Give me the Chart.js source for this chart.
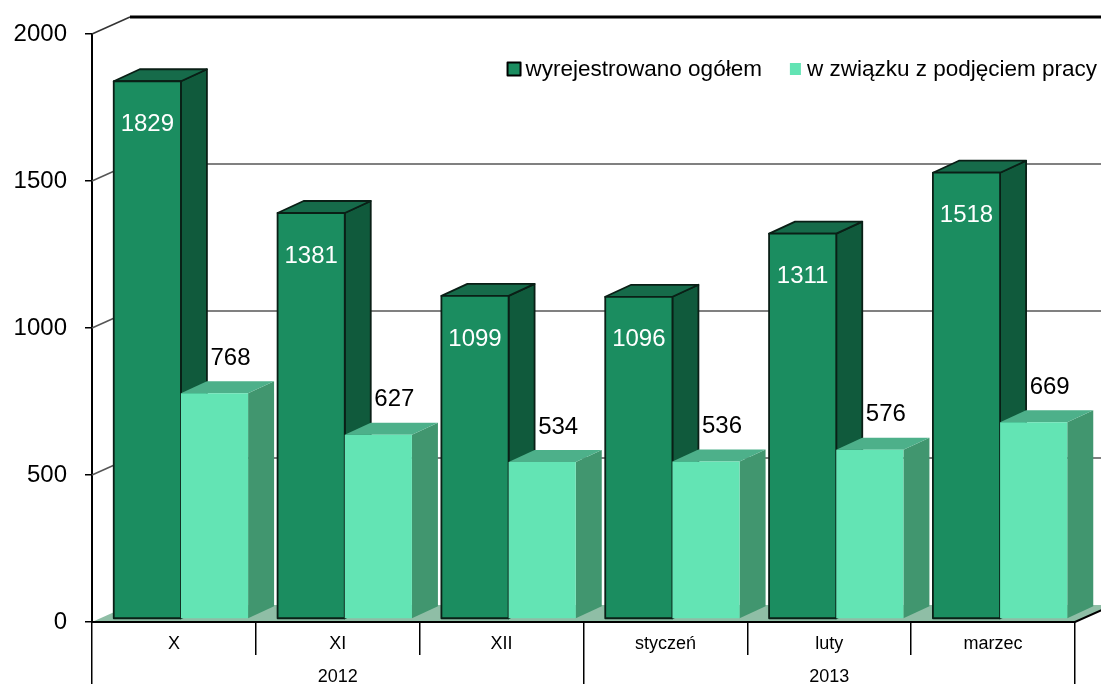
<!DOCTYPE html>
<html>
<head>
<meta charset="utf-8">
<script src="https://cdn.jsdelivr.net/npm/chart.js@4.4.1/dist/chart.umd.min.js"></script>
<style>
  html, body { margin: 0; padding: 0; background: #fff; }
  #wrap { width: 1101px; height: 684px; position: relative; }
</style>
</head>
<body>
<div id="wrap"><canvas id="chart"></canvas></div>
<script>
const categories = ['X', 'XI', 'XII', 'styczeń', 'luty', 'marzec'];
const years = ['2012', '2013'];
const totalValues = [1829, 1381, 1099, 1096, 1311, 1518];
const employedValues = [768, 627, 534, 536, 576, 669];
const seriesNames = ['wyrejestrowano ogółem', 'w związku z podjęciem pracy'];
const yMin = 0, yMax = 2000, yStep = 500;

const FONT = "'Liberation Sans', Arial, sans-serif";
const dark = { front: '#1b8d60', top: '#166b4a', side: '#105a3c', stroke: '#0a1f16' };
const light = { front: '#63e4b4', top: '#4db08a', side: '#41966f', stroke: null };

// 3d geometry in pixels
const wall = { dx: 38, dy: -17 };
const barShift = { dx: 7, dy: -3 };
const barDepth = { dx: 26, dy: -12 };

function poly(ctx, pts, fill, stroke) {
    ctx.beginPath();
    ctx.moveTo(pts[0][0], pts[0][1]);
    for (let i = 1; i < pts.length; i++) ctx.lineTo(pts[i][0], pts[i][1]);
    ctx.closePath();
    ctx.fillStyle = fill;
    ctx.fill();
    if (stroke) {
        ctx.strokeStyle = stroke;
        ctx.lineWidth = 1.8;
        ctx.lineJoin = 'round';
        ctx.stroke();
    }
}

function drawBar(ctx, el, c) {
    const x0 = el.x - el.width / 2 + barShift.dx;
    const x1 = el.x + el.width / 2 + barShift.dx;
    const yt = el.y + barShift.dy;
    const yb = el.base + barShift.dy;
    const dx = barDepth.dx, dy = barDepth.dy;
    poly(ctx, [[x1, yt], [x1 + dx, yt + dy], [x1 + dx, yb + dy], [x1, yb]], c.side, c.stroke);
    poly(ctx, [[x0, yt], [x1, yt], [x1 + dx, yt + dy], [x0 + dx, yt + dy]], c.top, c.stroke);
    poly(ctx, [[x0, yt], [x1, yt], [x1, yb], [x0, yb]], c.front, c.stroke);
    return { cx: (x0 + x1) / 2, yt: yt };
}

const box3d = {
    id: 'box3d',
    beforeDatasetsDraw(chart) {
        const ctx = chart.ctx;
        const a = chart.chartArea;
        const ys = chart.scales.y;
        ctx.save();
        ys.ticks.forEach(t => {
            const y = ys.getPixelForValue(t.value);
            if (t.value === yMin) return;
            const top = t.value === yMax;
            ctx.beginPath();
            ctx.moveTo(a.left, y);
            ctx.lineTo(a.left + wall.dx, y + wall.dy);
            ctx.strokeStyle = top ? '#333' : '#555';
            ctx.lineWidth = 1.5;
            ctx.stroke();
            ctx.beginPath();
            ctx.moveTo(a.left + wall.dx, y + wall.dy);
            ctx.lineTo(a.right + wall.dx, y + wall.dy);
            ctx.strokeStyle = top ? '#000' : '#808080';
            ctx.lineWidth = top ? 3 : 2;
            ctx.stroke();
        });
        // floor
        const b = ys.getPixelForValue(yMin);
        poly(ctx, [[a.left, b], [a.right, b], [a.right + wall.dx, b + wall.dy], [a.left + wall.dx, b + wall.dy]], '#8fbea6', null);
        ctx.beginPath();
        ctx.moveTo(a.left, b);
        ctx.lineTo(a.right, b);
        ctx.lineTo(a.right + wall.dx, b + wall.dy);
        ctx.strokeStyle = '#000';
        ctx.lineWidth = 2;
        ctx.stroke();
        ctx.restore();
    },
    afterDatasetsDraw(chart) {
        const ctx = chart.ctx;
        const m0 = chart.getDatasetMeta(0).data;
        const m1 = chart.getDatasetMeta(1).data;
        ctx.save();
        ctx.font = '24px ' + FONT;
        ctx.textAlign = 'center';
        ctx.textBaseline = 'middle';
        for (let i = 0; i < categories.length; i++) {
            const p0 = drawBar(ctx, m0[i], dark);
            const p1 = drawBar(ctx, m1[i], light);
            ctx.fillStyle = '#fff';
            ctx.fillText(String(totalValues[i]), p0.cx, p0.yt + 43);
            ctx.fillStyle = '#000';
            ctx.fillText(String(employedValues[i]), p1.cx + 16, p1.yt - 35);
        }

        // legend
        ctx.font = '22.5px ' + FONT;
        ctx.textAlign = 'left';
        const w1 = ctx.measureText(seriesNames[0]).width;
        const w2 = ctx.measureText(seriesNames[1]).width;
        const ly = 69;
        let x = 1097 - (13 + 5 + w1 + 28 + 11 + 6 + w2);
        ctx.fillStyle = dark.front;
        ctx.fillRect(x, ly - 6.5, 13, 13);
        ctx.strokeStyle = '#000';
        ctx.lineWidth = 2;
        ctx.strokeRect(x, ly - 6.5, 13, 13);
        x += 18;
        ctx.fillStyle = '#000';
        ctx.fillText(seriesNames[0], x, ly + 1);
        x += w1 + 28;
        ctx.fillStyle = light.front;
        ctx.fillRect(x, ly - 6, 11, 12);
        x += 17;
        ctx.fillStyle = '#000';
        ctx.fillText(seriesNames[1], x, ly + 1);
        ctx.restore();
    }
};

const yTicks = [];
for (let v = yMin; v <= yMax; v += yStep) yTicks.push(v);

new Chart(document.getElementById('chart'), {
    type: 'bar',
    data: {
        labels: categories,
        datasets: [
            { label: seriesNames[0], data: totalValues, backgroundColor: 'transparent', borderWidth: 0 },
            { label: seriesNames[1], data: employedValues, backgroundColor: 'transparent', borderWidth: 0 }
        ]
    },
    options: {
        responsive: true,
        maintainAspectRatio: false,
        animation: false,
        events: [],
        layout: { padding: { top: 34, right: 26, left: 0, bottom: 0 } },
        datasets: { bar: { categoryPercentage: 0.82, barPercentage: 1 } },
        plugins: { legend: { display: false }, tooltip: { enabled: false } },
        scales: {
            x: {
                type: 'category',
                position: 'bottom',
                grid: { offset: true, drawOnChartArea: false, tickLength: 33, color: '#000', lineWidth: 1.5 },
                border: { display: true, color: '#000', width: 2 },
                ticks: { color: '#000', font: { family: FONT, size: 18 }, padding: -22, maxRotation: 0, autoSkip: false },
                afterFit: s => { s.height = 33; }
            },
            x2: {
                type: 'category',
                labels: years,
                position: 'bottom',
                offset: true,
                grid: { offset: true, drawOnChartArea: false, tickLength: 29, color: '#000', lineWidth: 1.5 },
                border: { display: false },
                ticks: { color: '#000', font: { family: FONT, size: 18 }, padding: -18, maxRotation: 0, autoSkip: false },
                afterFit: s => { s.height = 29; }
            },
            y: {
                min: yMin,
                max: yMax,
                afterBuildTicks: s => { s.ticks = yTicks.map(v => ({ value: v })); },
                grid: { drawOnChartArea: false, tickLength: 7, color: '#000', lineWidth: 1.5 },
                border: { display: true, color: '#000', width: 2 },
                ticks: { color: '#000', font: { family: FONT, size: 24 }, padding: 18, callback: v => String(v) },
                afterFit: s => { s.width = 92; }
            }
        }
    },
    plugins: [box3d]
});
</script>
</body>
</html>
